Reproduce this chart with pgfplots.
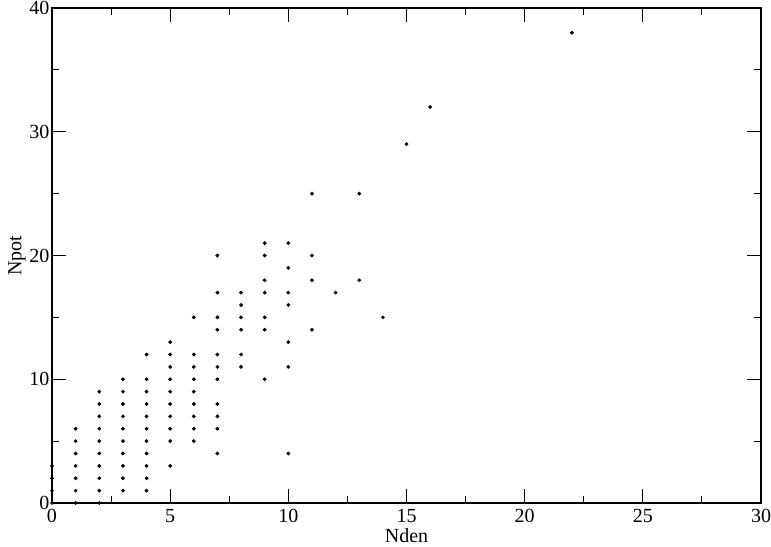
\documentclass[border=0pt]{standalone}
\usepackage{fontspec}
\setmainfont{Liberation Serif}
\usepackage{pgfplots}
\pgfplotsset{compat=1.18}

\pgfplotstableread{
x y
0 0
0 1
0 2
0 3
1 0
1 1
1 2
1 3
1 4
1 5
1 6
2 0
2 1
2 2
2 3
2 4
2 5
2 6
2 7
2 8
2 9
3 1
3 2
3 3
3 4
3 5
3 6
3 7
3 8
3 9
3 10
4 1
4 2
4 3
4 4
4 5
4 6
4 7
4 8
4 9
4 10
4 12
5 3
5 5
5 6
5 7
5 8
5 9
5 10
5 11
5 12
5 13
6 5
6 6
6 7
6 8
6 9
6 10
6 11
6 12
6 15
7 4
7 6
7 7
7 8
7 10
7 11
7 12
7 14
7 15
7 17
7 20
8 11
8 12
8 14
8 15
8 16
8 17
9 10
9 14
9 15
9 17
9 18
9 20
9 21
10 4
10 11
10 13
10 16
10 17
10 19
10 21
11 14
11 18
11 20
11 25
12 17
13 18
13 25
14 15
15 29
16 32
22 38
}\scatterdata

\begin{document}
\begin{tikzpicture}
\begin{axis}[
    name=ax,
    scale only axis,
    width=709pt, height=495pt,
    xmin=0, xmax=30, ymin=0, ymax=40,
    xtick={0,5,...,30}, ytick={0,10,...,40},
    minor xtick={2.5,7.5,...,27.5},
    minor ytick={5,15,25,35},
    tick align=inside,
    major tick length=14pt,
    minor tick length=7pt,
    every tick/.style={black, line width=0.9pt},
    axis line style={line width=1.2pt, black},
    clip=false,
    tick label style={font=\fontsize{20}{22}\selectfont},
    label style={font=\fontsize{20}{22}\selectfont},
    /pgf/number format/assume math mode=true,
    xlabel={Nden}, ylabel={Npot},
    xlabel style={yshift=1pt},
    ylabel style={yshift=-3pt},
    xticklabel style={yshift=-3pt},
    yticklabel style={xshift=1pt},
]
\addplot[only marks, mark=*, mark size=1.7pt, black] table[x=x, y=y] {\scatterdata};
\end{axis}
\pgfresetboundingbox
\path ([xshift=-52pt,yshift=-44pt]ax.south west) rectangle ([xshift=10pt,yshift=8pt]ax.north east);
\end{tikzpicture}
\end{document}
